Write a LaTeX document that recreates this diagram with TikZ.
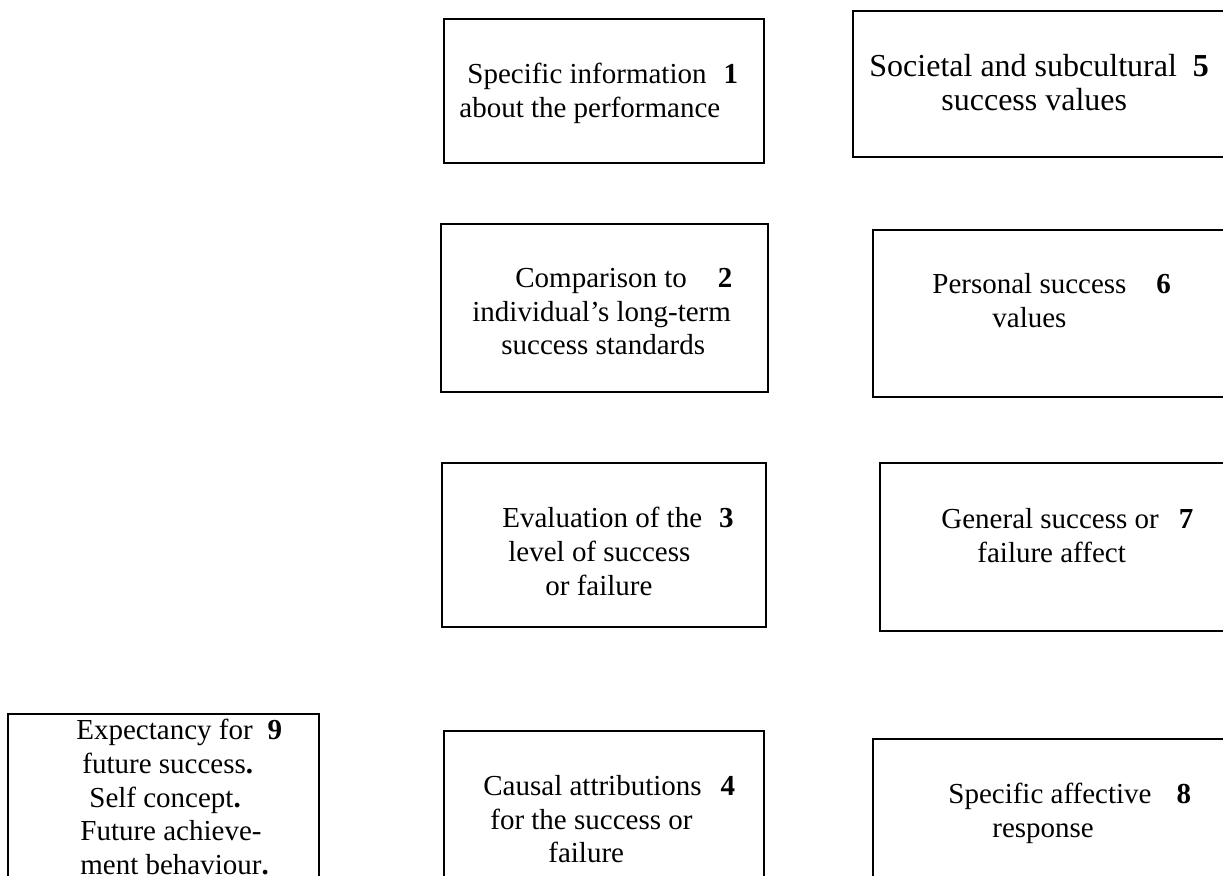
\documentclass[tikz,border=0pt]{standalone}
\usepackage{fontspec}
\setmainfont{Liberation Serif}
\usetikzlibrary{fit}
\tikzset{box/.style={draw,line width=1pt,inner sep=0pt},txt/.style={anchor=north west,align=left,inner sep=0pt,font=\fontsize{14.5}{16.8}\selectfont}}
\newcommand\boxno[2]{\hspace{#1}\textbf{#2}}

\begin{document}
\begin{tikzpicture}[x=0.5pt,y=-0.5pt]
\useasboundingbox (0,0) rectangle (1223,876);
\clip (0,0) rectangle (1223,876);
% boxes, left column to right
\node[box,fit={(8,714) (319,900)}] (b9) {};
\node[box,fit={(444,19) (764,163)}] (b1) {};
\node[box,fit={(441,224) (768,392)}] (b2) {};
\node[box,fit={(442,463) (766,627)}] (b3) {};
\node[box,fit={(444,731) (764,900)}] (b4) {};
\node[box,fit={(853,11) (1240,157)}] (b5) {};
\node[box,fit={(873,230) (1240,397)}] (b6) {};
\node[box,fit={(880,463) (1240,631)}] (b7) {};
\node[box,fit={(873,739) (1240,900)}] (b8) {};
% texts (top of first line)
\node[txt] (t9) at (76,719) {Expectancy for\boxno{7.5pt}{9}\\\hspace*{3pt}future success\textbf{.}\\\hspace*{6.5pt}Self concept\textbf{.}\\\hspace*{2pt}Future achieve-\\\hspace*{2pt}ment behaviour\textbf{.}};
\node[txt] (t1) at (459,63) {\hspace*{4pt}Specific information\boxno{8.5pt}{1}\\about the performance};
\node[txt] (t2) at (472,268) {\hspace*{21.5pt}Comparison to\boxno{15.5pt}{2}\\individual’s long-term\\\hspace*{14.5pt}success standards};
\node[txt] (t3) at (502,507) {Evaluation of the\boxno{8.5pt}{3}\\\hspace*{3pt}level of success\\\hspace*{21.5pt}or failure};
\node[txt] (t4) at (483,775) {Causal attributions\boxno{9.5pt}{4}\\\hspace*{3.5pt}for the success or\\\hspace*{32.5pt}failure};
\node[txt,font=\fontsize{16}{17}\selectfont] (t5) at (869,54) {Societal and subcultural\boxno{8pt}{5}\\\hspace*{36pt}success values};
\node[txt] (t6) at (932,273) {Personal success\boxno{15pt}{6}\\\hspace*{30pt}values};
\node[txt] (t7) at (941,508) {General success or\boxno{10pt}{7}\\\hspace*{18pt}failure affect};
\node[txt] (t8) at (948,783) {Specific affective\boxno{12.5pt}{8}\\\hspace*{22pt}response};
\end{tikzpicture}
\end{document}
